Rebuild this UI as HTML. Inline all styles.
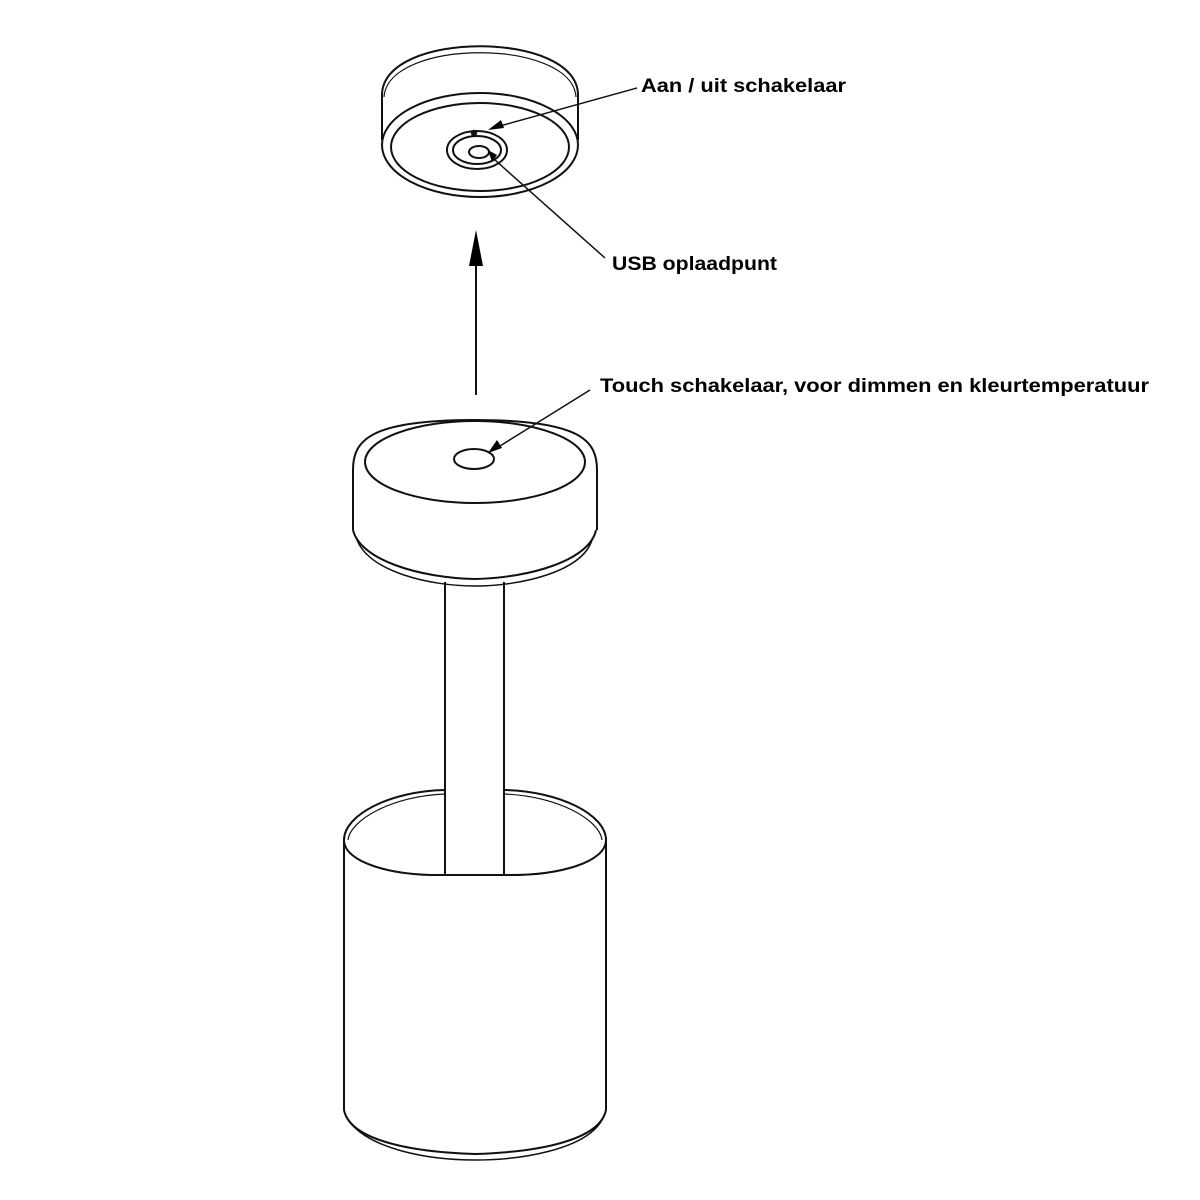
<!DOCTYPE html>
<html><head><meta charset="utf-8"><style>
html,body{margin:0;padding:0;background:#fff;}
svg{display:block;}
text{font-family:"Liberation Sans",sans-serif;font-weight:bold;fill:#000;}
</style></head><body>
<svg width="1200" height="1200" viewBox="0 0 1200 1200" xmlns="http://www.w3.org/2000/svg">
<g fill="none" stroke="#111" stroke-width="2">
<!-- top cap -->
<path d="M382,140 L382,95 C382,30 578,30 578,95 L578,140"/>
<path d="M384,97 C388,38 572,38 576,97" stroke-width="1.2"/>
<ellipse cx="480" cy="145" rx="98" ry="52" fill="#fff"/>
<ellipse cx="480" cy="147" rx="89" ry="44"/>
<ellipse cx="477" cy="150" rx="30" ry="19"/>
<ellipse cx="477" cy="150" rx="24" ry="14"/>
<ellipse cx="479" cy="152" rx="10" ry="6"/>
<circle cx="474" cy="133" r="2.2" fill="#111"/>
<!-- touch cap -->
<path d="M353,530 L353,470 C353,440 370,420 475,420 C580,420 597,440 597,470 L597,530"/>
<path d="M353,530 C360,560 420,578 475,579 C530,578 590,560 596,530"/>
<path d="M357,540 C370,572 430,586 475,586 C520,586 582,572 592,540" stroke-width="1.5"/>
<ellipse cx="475" cy="462" rx="110" ry="41"/>
<ellipse cx="474" cy="459" rx="20" ry="10"/>
<!-- stem -->
<line x1="445" y1="582" x2="445" y2="875"/>
<line x1="504" y1="582" x2="504" y2="874"/>
<!-- bottom cylinder -->
<path d="M344,838 L344,1110 C350,1140 410,1152 475,1154 C540,1152 600,1140 606,1110 L606,838"/>
<path d="M348,1120 C370,1150 430,1160 475,1160 C520,1160 585,1150 602,1120" stroke-width="1.5"/>
<path d="M344,840 C344,815 390,791 445,790 M504,790 C560,791 606,815 606,840 C606,862 560,876 504,875 L445,875 C390,876 344,862 344,840"/>
<path d="M348,840 C350,820 392,796 445,794 M504,794 C558,796 600,820 602,840" stroke-width="1.2"/>
<!-- leader lines -->
<line x1="476" y1="395" x2="476" y2="262"/>
<line x1="637" y1="88" x2="500" y2="126" stroke-width="1.5"/>
<line x1="605" y1="258" x2="495" y2="160" stroke-width="1.5"/>
<line x1="590" y1="390" x2="500" y2="446" stroke-width="1.5"/>
</g>
<g fill="#000">
<polygon points="476,230 469,266 483,266"/>
<polygon points="488,130 501,120 504,128"/>
<polygon points="488,150 497,155 492,162"/>
<polygon points="488,453 497,440 502,448"/>
</g>
<text x="641" y="92" font-size="19" textLength="205" lengthAdjust="spacingAndGlyphs">Aan / uit schakelaar</text>
<text x="612" y="270" font-size="19" textLength="165" lengthAdjust="spacingAndGlyphs">USB oplaadpunt</text>
<text x="600" y="392" font-size="19" textLength="549" lengthAdjust="spacingAndGlyphs">Touch schakelaar, voor dimmen en kleurtemperatuur</text>
</svg>
</body></html>
